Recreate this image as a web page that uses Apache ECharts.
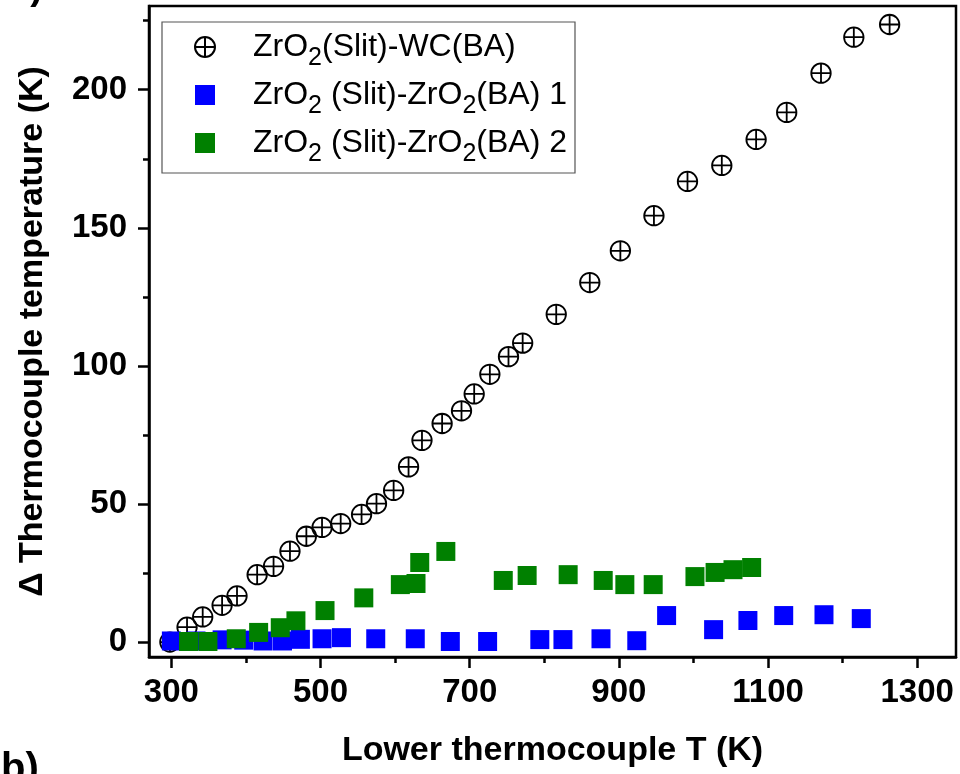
<!DOCTYPE html>
<html>
<head>
<meta charset="utf-8">
<script src="https://cdn.jsdelivr.net/npm/echarts@6/dist/echarts.min.js"></script>
<style>
html,body{margin:0;padding:0;background:#fff;}
#chart{width:960px;height:774px;}
</style>
</head>
<body>
<div id="chart"></div>
<script>
// ---- data ----
var circleX = [298, 321, 342, 368, 388, 415, 437, 459, 481, 502, 527, 555, 575, 598, 618, 636, 663, 689, 706, 727, 752, 771, 816, 861, 902, 947, 992, 1038, 1084, 1125, 1171, 1215, 1263];
var circleY = [0.1, 5.5, 9.2, 13.4, 16.8, 24.5, 27.5, 33, 38.4, 41.6, 43, 46.3, 50.2, 55, 63.5, 73.1, 79.2, 83.8, 89.9, 97, 103.4, 108.3, 118.7, 130.2, 141.7, 154.4, 166.8, 172.6, 182, 191.8, 206, 219, 223.6];

var blueX = [300, 333, 368, 397, 423, 449, 473, 502, 528, 574, 627, 674, 724, 794, 825, 876, 924, 964, 1027, 1073, 1121, 1175, 1225];
var blueY = [0.5, 0.5, 0.9, 0.8, 0.5, 0.5, 1.1, 1.3, 1.7, 1.3, 1.3, 0.3, 0.3, 1.0, 1.0, 1.3, 0.6, 9.7, 4.6, 7.9, 9.7, 10.0, 8.6];

var greenX = [323, 349, 387, 417, 446, 467, 506, 558, 607, 628, 633, 668, 745, 777, 832, 879, 908, 946, 1002, 1029, 1053, 1078];
var greenY = [0.3, 0.3, 1.3, 3.6, 5.3, 7.8, 11.5, 16.1, 20.9, 21.3, 28.9, 32.9, 22.4, 24.2, 24.5, 22.4, 20.9, 20.9, 23.8, 25.3, 26.3, 27.1];

var seriesNames = ['ZrO2(Slit)-WC(BA)', 'ZrO2 (Slit)-ZrO2(BA) 1', 'ZrO2 (Slit)-ZrO2(BA) 2'];
var legendRich = [
  '{p|ZrO}{s|2}{n|(Slit)-WC(BA)}',
  '{p|ZrO}{s|2}{n| (Slit)-ZrO}{s|2}{n|(BA) 1}',
  '{p|ZrO}{s|2}{n| (Slit)-ZrO}{s|2}{n|(BA) 2}'
];

var xMajorTicks = [300, 500, 700, 900, 1100, 1300];
var xMinorTicks = [400, 600, 800, 1000, 1200];
var yMajorTicks = [0, 50, 100, 150, 200];
var yMinorTicks = [25, 75, 125, 175, 225];

var xTitle = 'Lower thermocouple T (K)';
var yTitle = '\u0394 Thermocouple temperature (K)';

function pairs(xs, ys) {
  var out = [];
  for (var i = 0; i < xs.length; i++) out.push([xs[i], ys[i]]);
  return out;
}

var FONT = '"Liberation Sans", Arial, Helvetica, sans-serif';
var XMIN = 270, XMAX = 1352, YMIN = -5.3, YMAX = 230.3;
var crossCircle = 'path://M0,-10A10,10,0,1,1,0,10A10,10,0,1,1,0,-10Z M-10,0L10,0 M0,-10L0,10';

var chart = echarts.init(document.getElementById('chart'), null, {renderer: 'canvas'});

function plain(v) { return String(v); }

function makeXAxis(ticks, len, showLabel, withName) {
  return {
    type: 'value', min: XMIN, max: XMAX, position: 'bottom',
    axisLine: {show: withName, onZero: false, lineStyle: {color: '#000', width: 2.5}},
    axisTick: {show: true, inside: false, length: len, customValues: ticks, lineStyle: {color: '#000', width: 2.5}},
    axisLabel: {show: showLabel, customValues: ticks, formatter: plain, margin: 19, color: '#000', fontFamily: FONT, fontWeight: 'bold', fontSize: 33},
    splitLine: {show: false},
    name: withName ? xTitle : '',
    nameLocation: 'middle', nameGap: 77,
    nameTextStyle: {color: '#000', fontFamily: FONT, fontWeight: 'bold', fontSize: 34}
  };
}
function makeYAxis(ticks, len, showLabel, withName) {
  return {
    type: 'value', min: YMIN, max: YMAX, position: 'left',
    axisLine: {show: withName, onZero: false, lineStyle: {color: '#000', width: 2.5}},
    axisTick: {show: true, inside: false, length: len, customValues: ticks, lineStyle: {color: '#000', width: 2.5}},
    axisLabel: {show: showLabel, customValues: ticks, formatter: plain, margin: 22, color: '#000', fontFamily: FONT, fontWeight: 'bold', fontSize: 33},
    splitLine: {show: false},
    name: withName ? yTitle : '',
    nameLocation: 'middle', nameGap: 99,
    nameTextStyle: {color: '#000', fontFamily: FONT, fontWeight: 'bold', fontSize: 34}
  };
}

var option = {
  backgroundColor: '#fff',
  animation: false,
  grid: {left: 149, right: 4, top: 6, bottom: 117, show: true, borderColor: '#000', borderWidth: 2.5, backgroundColor: 'transparent'},
  xAxis: [makeXAxis(xMajorTicks, 11, true, true), makeXAxis(xMinorTicks, 6, false, false)],
  yAxis: [makeYAxis(yMajorTicks, 11, true, true), makeYAxis(yMinorTicks, 6, false, false)],
  legend: {
    orient: 'vertical', left: 162, top: 22,
    padding: [9, 8, 6, 32],
    itemGap: 8, itemWidth: 20, itemHeight: 20,
    borderColor: '#555', borderWidth: 1.2, backgroundColor: '#fff',
    data: seriesNames,
    formatter: function (name) { return legendRich[seriesNames.indexOf(name)]; },
    textStyle: {
      color: '#000', fontFamily: FONT, fontSize: 32,
      rich: {
        p: {fontFamily: FONT, fontSize: 32, lineHeight: 48, color: '#000', padding: [0, 0, 0, 33], verticalAlign: 'middle'},
        n: {fontFamily: FONT, fontSize: 32, lineHeight: 48, color: '#000', verticalAlign: 'middle'},
        s: {fontFamily: FONT, fontSize: 25, lineHeight: 25, color: '#000', verticalAlign: 'bottom'}
      }
    }
  },
  graphic: [
    {type: 'text', left: 9, top: -30, style: {text: 'a)', font: 'bold 38px ' + FONT, fill: '#000'}},
    {type: 'text', left: 1, top: 750, style: {text: 'b)', font: 'bold 40px ' + FONT, fill: '#000'}}
  ],
  series: [
    {
      name: seriesNames[0], type: 'scatter', xAxisIndex: 0, yAxisIndex: 0,
      symbol: crossCircle, symbolSize: 19.5,
      itemStyle: {color: 'rgba(255,255,255,0)', borderColor: '#000', borderWidth: 1.8, opacity: 1},
      data: pairs(circleX, circleY), z: 2
    },
    {
      name: seriesNames[1], type: 'scatter', xAxisIndex: 0, yAxisIndex: 0,
      symbol: 'rect', symbolSize: 19,
      itemStyle: {color: '#0000ff', opacity: 1},
      data: pairs(blueX, blueY), z: 3
    },
    {
      name: seriesNames[2], type: 'scatter', xAxisIndex: 0, yAxisIndex: 0,
      symbol: 'rect', symbolSize: 19,
      itemStyle: {color: '#008000', opacity: 1},
      data: pairs(greenX, greenY), z: 4
    }
  ]
};
chart.setOption(option);
</script>
</body>
</html>
